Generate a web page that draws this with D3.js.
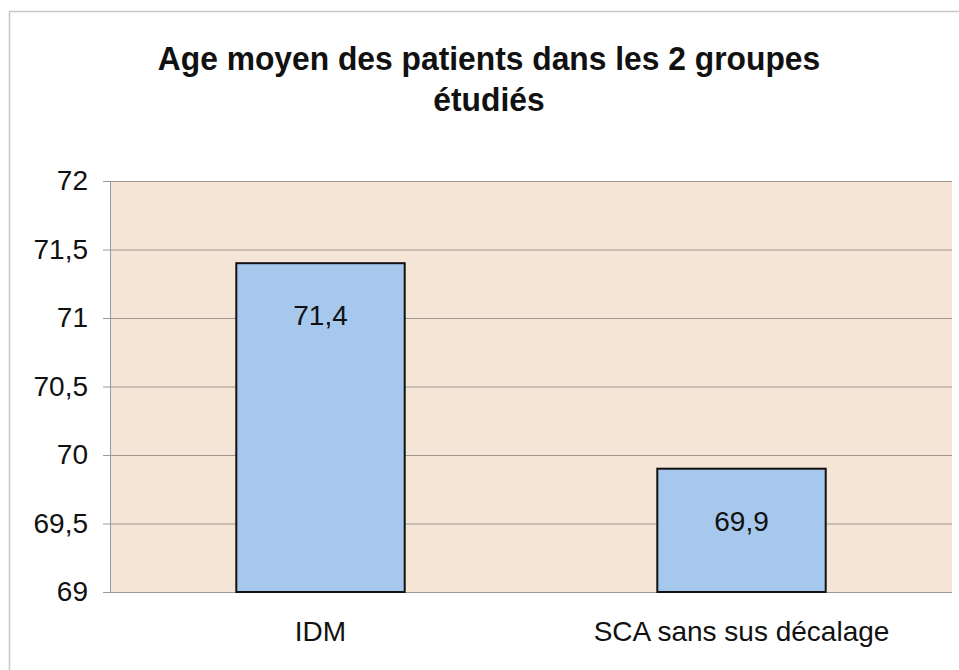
<!DOCTYPE html>
<html><head><meta charset="utf-8">
<script src="https://cdn.jsdelivr.net/npm/d3@7"></script>
<style>body{margin:0;background:#fff}svg{display:block}</style>
</head><body>
<svg id="c" width="959" height="670"></svg>
<script>
const title = ["Age moyen des patients dans les 2 groupes", "étudiés"];
const categories = ["IDM", "SCA sans sus décalage"];
const values = [71.4, 69.9];
const valueLabels = ["71,4", "69,9"];
const yTicks = [69, 69.5, 70, 70.5, 71, 71.5, 72];

const svg = d3.select("#c");
const m = {l:110, r:952, t:181, b:592};
const font = "'Liberation Sans', Arial, sans-serif";

// outer frame
svg.append("path").attr("d","M9.5,670 V11.5 H959").attr("fill","none").attr("stroke","#c8c8c8").attr("stroke-width",1.5);

const x = d3.scaleBand().domain(categories).range([m.l, m.r]);
const y = d3.scaleLinear().domain([69,72]).range([m.b, m.t]);

svg.append("rect").attr("x",m.l).attr("y",m.t).attr("width",m.r-m.l).attr("height",m.b-m.t).attr("fill","#f5e5d7");

// gridlines
svg.append("g").selectAll("line").data(yTicks.slice(1)).join("line")
  .attr("x1",m.l).attr("x2",m.r).attr("y1",d=>y(d)+0.5).attr("y2",d=>y(d)+0.5)
  .attr("stroke","#a09890").attr("stroke-width",1);

// y axis
const fmt = d => String(d).replace(".", ",");
const ya = svg.append("g").attr("transform",`translate(${m.l},0)`)
  .call(d3.axisLeft(y).tickValues(yTicks).tickFormat(fmt).tickSize(7).tickPadding(15));
ya.select(".domain").attr("stroke","#9a9a9a");
ya.selectAll(".tick line").attr("stroke","#9a9a9a");
ya.selectAll("text").attr("font-family",font).attr("font-size",28).attr("fill","#111");

// x axis base
svg.append("line").attr("x1",m.l).attr("x2",m.r).attr("y1",m.b+0.5).attr("y2",m.b+0.5).attr("stroke","#9a9a9a");

const bw = x.bandwidth()*0.4;
svg.append("g").selectAll("rect").data(values).join("rect")
  .attr("x",(d,i)=>x(categories[i])+x.bandwidth()/2-bw/2)
  .attr("y",d=>y(d))
  .attr("width",bw).attr("height",d=>y(69)-y(d))
  .attr("fill","#a6c8ec").attr("stroke","#111").attr("stroke-width",2);

svg.append("g").selectAll("text").data(values).join("text")
  .attr("x",(d,i)=>x(categories[i])+x.bandwidth()/2)
  .attr("y",d=>y(d)+62)
  .attr("text-anchor","middle").attr("font-family",font).attr("font-size",28).attr("fill","#111")
  .text((d,i)=>valueLabels[i]);

svg.append("g").selectAll("text").data(categories).join("text")
  .attr("x",d=>x(d)+x.bandwidth()/2).attr("y",641)
  .attr("text-anchor","middle").attr("font-family",font).attr("font-size",28).attr("fill","#111")
  .text(d=>d);

const tt = svg.append("g").selectAll("text").data(title).join("text")
  .attr("x",489).attr("y",(d,i)=>70+i*41)
  .attr("text-anchor","middle").attr("font-family",font).attr("font-weight","bold").attr("font-size",34).attr("fill","#111")
  .text(d=>d);
tt.each(function(){ const w=this.getComputedTextLength(); d3.select(this).attr("textLength",w*0.935).attr("lengthAdjust","spacingAndGlyphs"); });
</script>
</body></html>
